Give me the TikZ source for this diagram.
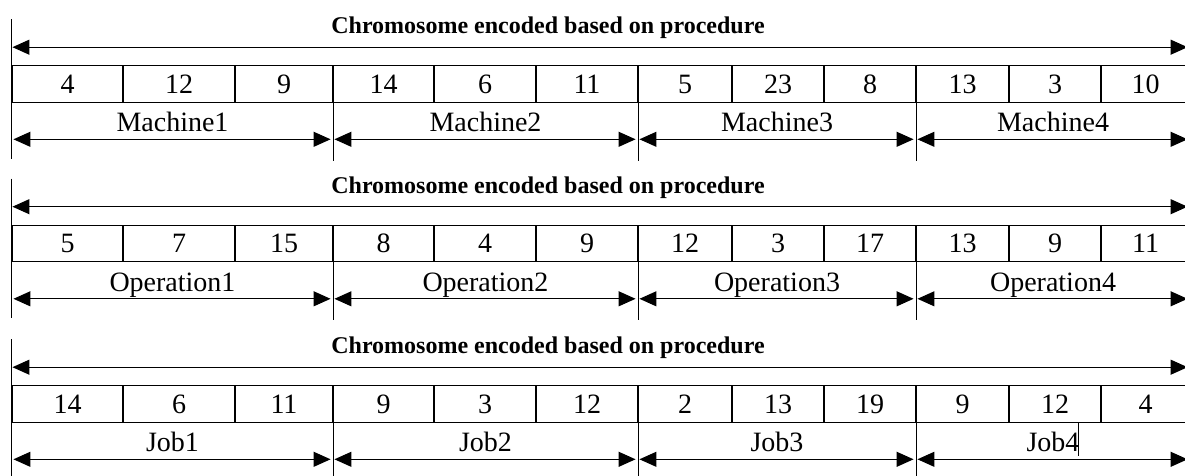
\documentclass[tikz,border=0pt]{standalone}
\usepackage{fontspec}
\setmainfont{Liberation Serif}
\usepackage{tikz}
\usetikzlibrary{arrows.meta}
\usetikzlibrary{positioning}

\begin{document}
\begin{tikzpicture}[x=1pt, y=-1pt, line width=1.1pt,
	>={Triangle[length=17pt,width=15pt]},
	cell/.style={draw, rectangle, minimum height=36.5pt, inner sep=0pt, font=\fontsize{28}{30}\selectfont},
	title/.style={font=\fontsize{24}{28}\selectfont\bfseries},
	blocklabel/.style={anchor=base, yshift=7.5pt, font=\fontsize{28}{30}\selectfont},
	span/.style={<->, shorten <=2pt, shorten >=3pt}]
	\useasboundingbox (0,0) rectangle (1185,476);
	% machine row
	\node[title] (Chromosome Machine) at (548, 28) {Chromosome encoded based on procedure};
	\node[cell, minimum width=111pt] (Machine1-1) at (67.5, 84) {4};
	\node[cell, minimum width=112pt] (Machine1-2) at (179, 84) {12};
	\node[cell, minimum width=98pt] (Machine1-3) at (284, 84) {9};
	\node[cell, minimum width=101pt] (Machine2-1) at (383.5, 84) {14};
	\node[cell, minimum width=102pt] (Machine2-2) at (485, 84) {6};
	\node[cell, minimum width=102pt] (Machine2-3) at (587, 84) {11};
	\node[cell, minimum width=94pt] (Machine3-1) at (685, 84) {5};
	\node[cell, minimum width=92pt] (Machine3-2) at (778, 84) {23};
	\node[cell, minimum width=92pt] (Machine3-3) at (870, 84) {8};
	\node[cell, minimum width=93pt] (Machine4-1) at (962.5, 84) {13};
	\node[cell, minimum width=92pt] (Machine4-2) at (1055, 84) {3};
	\node[cell, minimum width=89pt] (Machine4-3) at (1145.5, 84) {10};
	\draw ([yshift=46pt]Machine1-1.north west) -- ([yshift=-56pt]Machine1-1.south west);
	\draw (Machine1-3.south east) -- ++(0,58);
	\draw (Machine2-3.south east) -- ++(0,58);
	\draw (Machine3-3.south east) -- ++(0,58);
	\draw[<->, shorten <=1pt] ([yshift=18pt]Machine1-1.north west) -- ([yshift=18pt, xshift=-3pt]Machine4-3.north east);
	\draw[span] ([yshift=-36.5pt]Machine1-1.south west) -- node[blocklabel] (Machine1) {Machine1} ([yshift=-36.5pt]Machine1-3.south east);
	\draw[span] ([yshift=-36.5pt]Machine2-1.south west) -- node[blocklabel] (Machine2) {Machine2} ([yshift=-36.5pt]Machine2-3.south east);
	\draw[span] ([yshift=-36.5pt]Machine3-1.south west) -- node[blocklabel] (Machine3) {Machine3} ([yshift=-36.5pt]Machine3-3.south east);
	\draw[span] ([yshift=-36.5pt]Machine4-1.south west) -- node[blocklabel] (Machine4) {Machine4} ([yshift=-36.5pt]Machine4-3.south east);
	% operation row
	\node[title] (Chromosome Operation) at (548, 187.5) {Chromosome encoded based on procedure};
	\node[cell, minimum width=111pt] (Operation1-1) at (67.5, 243.5) {5};
	\node[cell, minimum width=112pt] (Operation1-2) at (179, 243.5) {7};
	\node[cell, minimum width=98pt] (Operation1-3) at (284, 243.5) {15};
	\node[cell, minimum width=101pt] (Operation2-1) at (383.5, 243.5) {8};
	\node[cell, minimum width=102pt] (Operation2-2) at (485, 243.5) {4};
	\node[cell, minimum width=102pt] (Operation2-3) at (587, 243.5) {9};
	\node[cell, minimum width=94pt] (Operation3-1) at (685, 243.5) {12};
	\node[cell, minimum width=92pt] (Operation3-2) at (778, 243.5) {3};
	\node[cell, minimum width=92pt] (Operation3-3) at (870, 243.5) {17};
	\node[cell, minimum width=93pt] (Operation4-1) at (962.5, 243.5) {13};
	\node[cell, minimum width=92pt] (Operation4-2) at (1055, 243.5) {9};
	\node[cell, minimum width=89pt] (Operation4-3) at (1145.5, 243.5) {11};
	\draw ([yshift=46pt]Operation1-1.north west) -- ([yshift=-56pt]Operation1-1.south west);
	\draw (Operation1-3.south east) -- ++(0,58);
	\draw (Operation2-3.south east) -- ++(0,58);
	\draw (Operation3-3.south east) -- ++(0,58);
	\draw[<->, shorten <=1pt] ([yshift=18pt]Operation1-1.north west) -- ([yshift=18pt, xshift=-3pt]Operation4-3.north east);
	\draw[span] ([yshift=-36.5pt]Operation1-1.south west) -- node[blocklabel] (Operation1) {Operation1} ([yshift=-36.5pt]Operation1-3.south east);
	\draw[span] ([yshift=-36.5pt]Operation2-1.south west) -- node[blocklabel] (Operation2) {Operation2} ([yshift=-36.5pt]Operation2-3.south east);
	\draw[span] ([yshift=-36.5pt]Operation3-1.south west) -- node[blocklabel] (Operation3) {Operation3} ([yshift=-36.5pt]Operation3-3.south east);
	\draw[span] ([yshift=-36.5pt]Operation4-1.south west) -- node[blocklabel] (Operation4) {Operation4} ([yshift=-36.5pt]Operation4-3.south east);
	% job row
	\node[title] (Chromosome Job) at (548, 347.5) {Chromosome encoded based on procedure};
	\node[cell, minimum width=111pt] (Job1-1) at (67.5, 404) {14};
	\node[cell, minimum width=112pt] (Job1-2) at (179, 404) {6};
	\node[cell, minimum width=98pt] (Job1-3) at (284, 404) {11};
	\node[cell, minimum width=101pt] (Job2-1) at (383.5, 404) {9};
	\node[cell, minimum width=102pt] (Job2-2) at (485, 404) {3};
	\node[cell, minimum width=102pt] (Job2-3) at (587, 404) {12};
	\node[cell, minimum width=94pt] (Job3-1) at (685, 404) {2};
	\node[cell, minimum width=92pt] (Job3-2) at (778, 404) {13};
	\node[cell, minimum width=92pt] (Job3-3) at (870, 404) {19};
	\node[cell, minimum width=93pt] (Job4-1) at (962.5, 404) {9};
	\node[cell, minimum width=92pt] (Job4-2) at (1055, 404) {12};
	\node[cell, minimum width=89pt] (Job4-3) at (1145.5, 404) {4};
	\draw ([yshift=46pt]Job1-1.north west) -- ([yshift=-56pt]Job1-1.south west);
	\draw (Job1-3.south east) -- ++(0,58);
	\draw (Job2-3.south east) -- ++(0,58);
	\draw (Job3-3.south east) -- ++(0,58);
	\draw[<->, shorten <=1pt] ([yshift=18pt]Job1-1.north west) -- ([yshift=18pt, xshift=-3pt]Job4-3.north east);
	\draw[span] ([yshift=-36.5pt]Job1-1.south west) -- node[blocklabel] (Job1) {Job1} ([yshift=-36.5pt]Job1-3.south east);
	\draw[span] ([yshift=-36.5pt]Job2-1.south west) -- node[blocklabel] (Job2) {Job2} ([yshift=-36.5pt]Job2-3.south east);
	\draw[span] ([yshift=-36.5pt]Job3-1.south west) -- node[blocklabel] (Job3) {Job3} ([yshift=-36.5pt]Job3-3.south east);
	\draw[span] ([yshift=-36.5pt]Job4-1.south west) -- node[blocklabel] (Job4) {Job4} ([yshift=-36.5pt]Job4-3.south east);
	\draw[line width=0.7pt] (Job4-2.south) ++(23,0) -- ++(0,33);
\end{tikzpicture}
\end{document}
